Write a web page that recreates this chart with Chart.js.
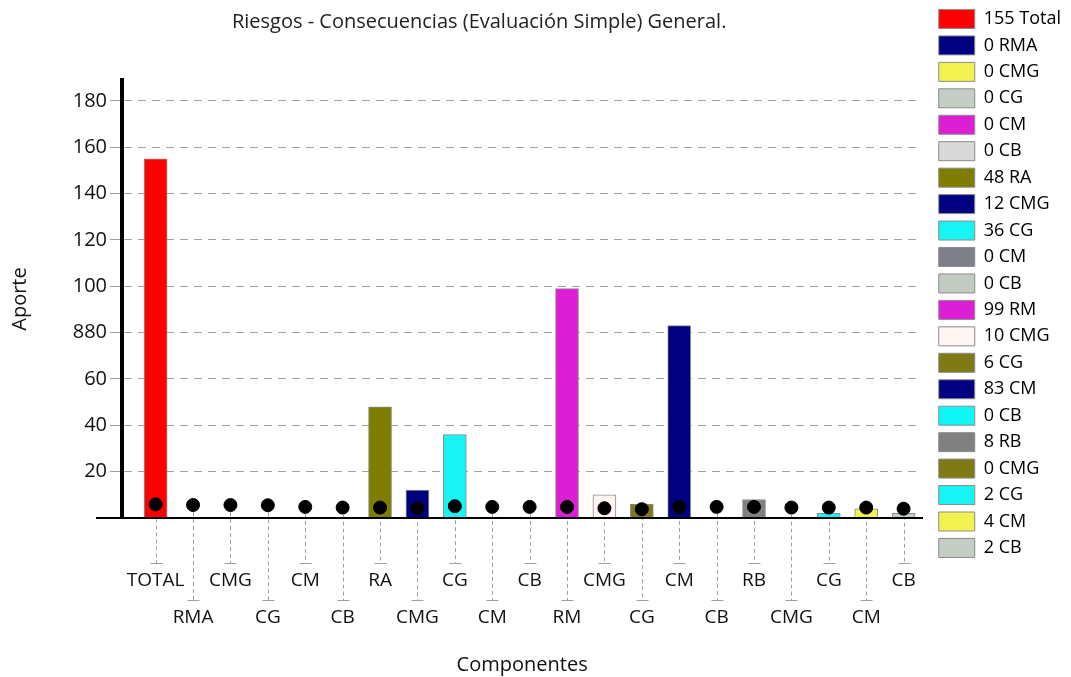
<!DOCTYPE html>
<html>
<head>
<meta charset="utf-8">
<script src="https://cdn.jsdelivr.net/npm/chart.js@4"></script>
<style>
  body { margin: 0; background: #fff; }
  #wrap { width: 1071px; height: 677px; }
</style>
</head>
<body>
<div id="wrap"><canvas id="chart"></canvas></div>
<script>
// Riesgos - Consecuencias: aporte por componente
const categories  = ['TOTAL', 'RMA', 'CMG', 'CG', 'CM', 'CB', 'RA', 'CMG', 'CG', 'CM', 'CB',
                     'RM', 'CMG', 'CG', 'CM', 'CB', 'RB', 'CMG', 'CG', 'CM', 'CB'];
const legendNames = ['Total', 'RMA', 'CMG', 'CG', 'CM', 'CB', 'RA', 'CMG', 'CG', 'CM', 'CB',
                     'RM', 'CMG', 'CG', 'CM', 'CB', 'RB', 'CMG', 'CG', 'CM', 'CB'];
const aporte  = [155, 0, 0, 0, 0, 0, 48, 12, 36, 0, 0, 99, 10, 6, 83, 0, 8, 0, 2, 4, 2];
const puntos  = [5.9, 5.6, 5.6, 5.5, 4.8, 4.5, 4.5, 4.2, 5.1, 4.8, 4.8,
                 4.8, 4.2, 3.8, 4.8, 4.8, 4.8, 4.5, 4.5, 4.5, 4.0];
const colores = ['#ff0000', '#000080', '#f2f250', '#c4cec4', '#dc1ed4', '#d9d9d9', '#7f7d00',
                 '#000080', '#18f4f4', '#7e8089', '#c3ccc3', '#dc1ed4', '#fff5f2', '#7f7a16',
                 '#000080', '#10f6f6', '#808080', '#7f7a16', '#18f4f4', '#f2f250', '#c4cec4'];
const yTickLabels = ['', '20', '40', '60', '880', '100', '120', '140', '160', '180'];

const FONT = "'Open Sans', 'DejaVu Sans', sans-serif";
const GRAY = '#a0a0a0';

// líneas punteadas de las etiquetas escalonadas + prolongación del eje X
const decor = {
  id: 'decor',
  afterLayout(chart) {
    if (chart.titleBlock) {
      chart.titleBlock.left = 36;
      chart.titleBlock.right = chart.chartArea.right;
    }
  },
  beforeDatasetsDraw(chart) {
    const { ctx, scales: { x, y } } = chart;
    const base = y.getPixelForValue(0);
    ctx.save();
    ctx.strokeStyle = GRAY;
    ctx.lineWidth = 1;
    puntos.forEach((p, i) => {
      const px = Math.round(x.getPixelForValue(i)) + 0.5;
      const capY = base + (i % 2 ? 82 : 45);
      ctx.setLineDash([4, 3]);
      ctx.beginPath();
      ctx.moveTo(px, y.getPixelForValue(p));
      ctx.lineTo(px, capY);
      ctx.stroke();
      ctx.setLineDash([]);
      ctx.beginPath();
      ctx.moveTo(px - 6, capY + 0.5);
      ctx.lineTo(px + 6, capY + 0.5);
      ctx.stroke();
    });
    ctx.restore();
  },
  afterDatasetsDraw(chart) {
    const { ctx, chartArea, scales: { y } } = chart;
    const base = y.getPixelForValue(0);
    ctx.save();
    ctx.strokeStyle = '#000';
    ctx.lineWidth = 2;
    ctx.beginPath();
    ctx.moveTo(chartArea.left - 26, base);
    ctx.lineTo(chartArea.left, base);
    ctx.stroke();
    ctx.restore();
  },
};

new Chart(document.getElementById('chart'), {
  type: 'bar',
  data: {
    datasets: [
      {
        type: 'line',
        label: 'puntos',
        data: puntos.map((v, i) => ({ x: i, y: v })),
        showLine: false,
        pointRadius: 6.5,
        pointBackgroundColor: '#000',
        pointBorderColor: '#000',
        order: 0,
      },
      {
        label: 'Aporte',
        data: aporte.map((v, i) => ({ x: i, y: v })),
        backgroundColor: colores,
        borderColor: '#8c8c8c',
        borderWidth: 1,
        barThickness: 23,
        order: 1,
      },
    ],
  },
  options: {
    responsive: true,
    maintainAspectRatio: false,
    animation: false,
    layout: { padding: { top: 2, left: 0, right: 0, bottom: 0 } },
    plugins: {
      tooltip: { enabled: false },
      title: {
        display: true,
        text: 'Riesgos - Consecuencias (Evaluación Simple) General.',
        color: '#222',
        font: { family: FONT, size: 20, weight: 'normal' },
        padding: { top: 8, bottom: 46 },
      },
      legend: {
        position: 'right',
        align: 'start',
        onClick: null,
        labels: {
          color: '#111',
          font: { family: FONT, size: 18 },
          boxWidth: 36,
          boxHeight: 19,
          padding: 7.45,
          generateLabels: () => legendNames.map((n, i) => ({
            text: `${aporte[i]} ${n}`,
            fillStyle: colores[i],
            strokeStyle: '#8c8c8c',
            lineWidth: 1,
            hidden: false,
            index: i,
            datasetIndex: 1,
          })),
        },
      },
    },
    scales: {
      x: {
        type: 'linear',
        min: -0.9,
        max: 20.5,
        offset: false,
        afterBuildTicks: s => { s.ticks = categories.map((_, i) => ({ value: i })); },
        afterFit: s => { s.height = 159; },
        grid: { display: false, drawTicks: false, offset: false },
        border: { display: true, color: '#000', width: 2, z: 1 },
        ticks: {
          autoSkip: false,
          maxRotation: 0,
          padding: 44.5,
          color: '#111',
          font: { family: FONT, size: 19, lineHeight: '37px' },
          callback: v => (v % 2 ? ['', categories[v]] : categories[v]),
        },
        title: {
          display: true,
          text: 'Componentes',
          color: '#111',
          font: { family: FONT, size: 20 },
          padding: { top: 10, bottom: 0 },
        },
      },
      y: {
        min: 0,
        max: 189,
        afterFit: s => { s.width = 122; },
        afterBuildTicks: s => {
          s.ticks = yTickLabels.map((_, i) => ({ value: i * 20 })).filter(t => t.value > 0);
        },
        grid: { color: GRAY, tickColor: GRAY, tickLength: 12, lineWidth: 1 },
        border: { display: true, color: '#000', width: 4, dash: [8, 6], z: 1 },
        ticks: {
          padding: 3,
          color: '#111',
          font: { family: FONT, size: 20 },
          callback: v => yTickLabels[v / 20],
        },
        title: {
          display: true,
          text: 'Aporte',
          color: '#111',
          font: { family: FONT, size: 20 },
          padding: { top: 8, bottom: 0 },
        },
      },
      spacer: {
        position: 'right',
        display: true,
        afterFit: s => { s.width = 9; },
        grid: { display: false, drawTicks: false },
        border: { display: false },
        ticks: { display: false },
      },
    },
  },
  plugins: [decor],
});
</script>
</body>
</html>
